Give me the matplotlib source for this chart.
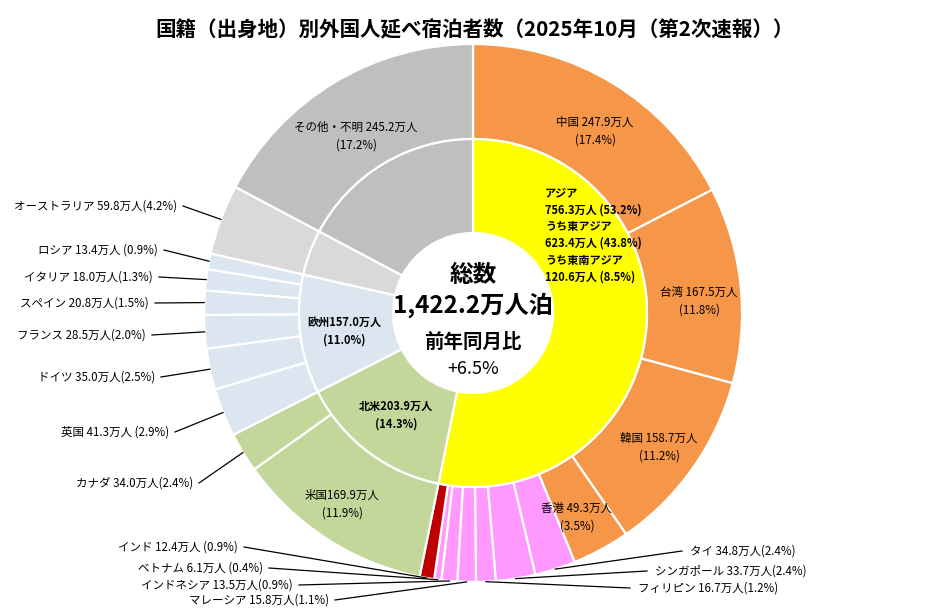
import numpy as np
import matplotlib
matplotlib.use("Agg")
import matplotlib.pyplot as plt

plt.rcParams['font.family'] = ['Noto Sans CJK JP', 'DejaVu Sans']

# ---- data ----
title = "国籍（出身地）別外国人延べ宿泊者数（2025年10月（第2次速報））"

inner_names = ["アジア", "北米", "欧州", "オセアニア", "その他・不明"]
inner_values = [756.3, 203.9, 157.0, 59.8, 245.2]
inner_colors = ["#FFFF00", "#C4D79B", "#DCE6F1", "#D9D9D9", "#BFBFBF"]

outer_names = ["中国", "台湾", "韓国", "香港",
               "タイ", "シンガポール", "フィリピン", "マレーシア", "インドネシア", "ベトナム",
               "インド", "米国", "カナダ",
               "英国", "ドイツ", "フランス", "スペイン", "イタリア", "ロシア",
               "オーストラリア", "その他・不明"]
outer_values = [247.9, 167.5, 158.7, 49.3,
                34.8, 33.7, 16.7, 15.8, 13.5, 6.1,
                12.4, 169.9, 34.0,
                41.3, 35.0, 28.5, 20.8, 18.0, 13.4,
                59.8, 245.2]
outer_pct = [17.4, 11.8, 11.2, 3.5,
             2.4, 2.4, 1.2, 1.1, 0.9, 0.4,
             0.9, 11.9, 2.4,
             2.9, 2.5, 2.0, 1.5, 1.3, 0.9,
             4.2, 17.2]
outer_colors = ["#F59649"] * 4 + ["#FF99FF"] * 6 + ["#C00000"] + ["#C4D79B"] * 2 + \
               ["#DCE6F1"] * 6 + ["#D9D9D9", "#BFBFBF"]

total = "1,422.2万人泊"
yoy = "+6.5%"

# ---- figure: data units = pixels, origin at chart centre ----
W, H = 949, 609
CX, CY = 473, 313
fig = plt.figure(figsize=(W / 100, H / 100), dpi=100)
ax = fig.add_axes([0, 0, 1, 1])

R_OUT, R_MID, R_IN = 269, 174, 80

wp = dict(edgecolor='white', linewidth=1.6)
ax.pie(outer_values, radius=R_OUT, colors=outer_colors, startangle=90, counterclock=False,
       wedgeprops=dict(width=R_OUT - R_MID, **wp), center=(0, 0), frame=True)
ax.pie(inner_values, radius=R_MID, colors=inner_colors, startangle=90, counterclock=False,
       wedgeprops=dict(width=R_MID - R_IN, **wp), center=(0, 0), frame=True)
ax.set_xlim(-CX, W - CX)
ax.set_ylim(-(H - CY), CY)
ax.set_aspect('equal')
ax.axis('off')


def P(px, py):
    return px - CX, CY - py


fig.text(0.5, 1 - 30 / H, title, ha='center', va='center', fontsize=14.8, fontweight='bold')

# centre texts
ax.text(*P(473, 275), "総数", ha='center', va='center', fontsize=17, fontweight='bold')
ax.text(*P(473, 305), total, ha='center', va='center', fontsize=17.5, fontweight='bold')
ax.text(*P(473, 342), "前年同月比", ha='center', va='center', fontsize=14, fontweight='bold')
ax.text(*P(473, 369), yoy, ha='center', va='center', fontsize=13)

FS = 8.3
# inner labels
asia_lines = [f"{inner_names[0]}", "756.3万人 (53.2%)", "うち東アジア", "623.4万人 (43.8%)",
              "うち東南アジア", "120.6万人 (8.5%)"]
for i, s in enumerate(asia_lines):
    ax.text(*P(545, 193 + i * 16.8), s, ha='left', va='center', fontsize=8, fontweight='bold')
ax.text(*P(396, 415), f"{inner_names[1]}{inner_values[1]}万人\n(14.3%)", ha='center', va='center',
        fontsize=8, fontweight='bold', linespacing=1.5)
ax.text(*P(344, 331), f"{inner_names[2]}{inner_values[2]}万人\n(11.0%)", ha='center', va='center',
        fontsize=8, fontweight='bold', linespacing=1.5)

# outer labels inside wedges
inside = {"中国": (595, 131, " "), "台湾": (699, 301, " "), "韓国": (659, 447, " "),
          "香港": (577, 517, " "), "米国": (342, 504, ""), "その他・不明": (356, 136, " ")}
for name, (px, py, sep) in inside.items():
    i = outer_names.index(name)
    ax.text(*P(px, py), f"{name}{sep}{outer_values[i]}万人\n({outer_pct[i]}%)", ha='center',
            va='center', fontsize=FS, linespacing=1.5)

# outer labels with leader lines: (text anchor x, y, ha, space before pct)
outside = {
    "オーストラリア": (177, 206, 'right', ""),
    "ロシア": (158, 250, 'right', " "),
    "イタリア": (153, 277, 'right', ""),
    "スペイン": (149, 303, 'right', ""),
    "フランス": (146, 335, 'right', ""),
    "ドイツ": (155, 377, 'right', ""),
    "英国": (169, 432, 'right', " "),
    "カナダ": (193, 483, 'right', ""),
    "インド": (238, 547, 'right', " "),
    "ベトナム": (263, 568, 'right', " "),
    "インドネシア": (293, 585, 'right', ""),
    "マレーシア": (329, 600, 'right', ""),
    "タイ": (690, 551, 'left', ""),
    "シンガポール": (655, 571, 'left', ""),
    "フィリピン": (638, 588, 'left', ""),
}
cum = np.cumsum([0] + outer_values)
tot = cum[-1]
for name, (px, py, ha, sp) in outside.items():
    i = outer_names.index(name)
    mid = (cum[i] + cum[i + 1]) / 2 / tot
    ang = np.deg2rad(90 - 360 * mid)
    ex, ey = R_OUT * np.cos(ang), R_OUT * np.sin(ang)
    tx, ty = P(px, py)
    ax.text(tx, ty, f"{name} {outer_values[i]}万人{sp}({outer_pct[i]}%)", ha=ha, va='center',
            fontsize=FS)
    lx = tx + 6 if ha == 'right' else tx - 8
    ax.plot([lx, ex], [ty, ey], color='black', linewidth=0.9)

fig.savefig("out.png", dpi=100)
